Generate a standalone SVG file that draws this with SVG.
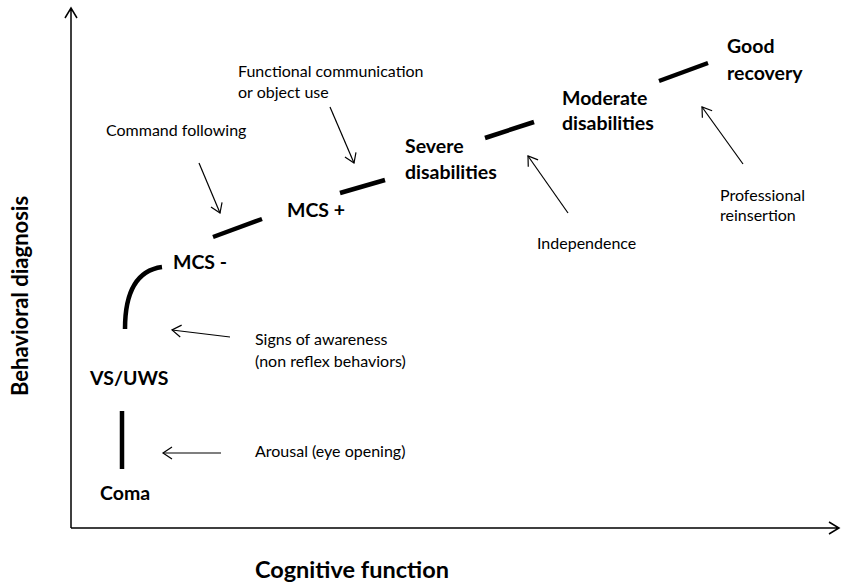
<svg xmlns="http://www.w3.org/2000/svg" width="842" height="586" viewBox="0 0 842 586">
<style>
.ax{stroke:#000;stroke-width:1.5;fill:none}
.thin{stroke:#000;stroke-width:1.2;fill:none;marker-end:url(#open)}
.seg{stroke:#000;stroke-width:4.5;fill:none}
.b{font-family:Lato,"Open Sans","Liberation Sans",sans-serif;font-weight:bold;font-size:19.5px;fill:#000}
.r{font-family:Lato,"Open Sans","Liberation Sans",sans-serif;font-size:16px;fill:#000}
.t{font-family:Lato,"Open Sans","Liberation Sans",sans-serif;font-weight:bold;font-size:23.5px;fill:#000}
</style>
<defs>
<marker id="open" markerWidth="14" markerHeight="14" refX="12" refY="7" orient="auto" markerUnits="userSpaceOnUse">
<path d="M3,1 L12,7 L3,13" fill="none" stroke="#000" stroke-width="1.2"/>
</marker>
</defs>
<rect width="842" height="586" fill="#fff"/>
<g id="axes">
<path class="ax" d="M71,528 V9 M65,18 L71,8 L77,18"/>
<path class="ax" d="M71,528 H838 M829,522 L839,528 L829,534"/>
<text class="t" transform="translate(28,396) rotate(-90)" style="font-size:22px">Behavioral diagnosis</text>
<text class="t" x="255" y="578">Cognitive function</text>
</g>
<g id="connectors">
<line class="seg" x1="122" y1="411" x2="122" y2="469"/>
<path class="seg" d="M125,329 Q125,272 162,267"/>
<line class="seg" x1="213" y1="237" x2="262" y2="219"/>
<line class="seg" x1="340" y1="193" x2="385" y2="180"/>
<line class="seg" x1="485" y1="138" x2="534" y2="122"/>
<line class="seg" x1="659" y1="81" x2="708" y2="63"/>
<line class="thin" x1="199" y1="163" x2="220" y2="213"/>
<line class="thin" x1="330" y1="107" x2="354" y2="163"/>
<line class="thin" x1="230" y1="337" x2="172" y2="330"/>
<line class="thin" x1="221" y1="453" x2="163" y2="453"/>
<line class="thin" x1="568" y1="213" x2="528" y2="156"/>
<line class="thin" x1="743" y1="164" x2="702" y2="107"/>
</g>
<g id="coma"><text class="b" x="100" y="500">Coma</text></g>
<g id="vsuws"><text class="b" x="90" y="385">VS/UWS</text></g>
<g id="mcs-minus"><text class="b" x="173" y="269">MCS -</text></g>
<g id="mcs-plus"><text class="b" x="287" y="217">MCS +</text></g>
<g id="severe"><text class="b" x="405" y="153">Severe</text><text class="b" x="405" y="179">disabilities</text></g>
<g id="moderate"><text class="b" x="562" y="105">Moderate</text><text class="b" x="562" y="130">disabilities</text></g>
<g id="good"><text class="b" x="727" y="53">Good</text><text class="b" x="727" y="80">recovery</text></g>
<g id="functional"><text class="r" x="238" y="77">Functional communication</text><text class="r" x="238" y="98">or object use</text></g>
<g id="command"><text class="r" x="106" y="136">Command following</text></g>
<g id="signs"><text class="r" x="255" y="345">Signs of awareness</text><text class="r" x="255" y="367">(non reflex behaviors)</text></g>
<g id="arousal"><text class="r" x="255" y="457">Arousal (eye opening)</text></g>
<g id="independence"><text class="r" x="537" y="249">Independence</text></g>
<g id="professional"><text class="r" x="720" y="201">Professional</text><text class="r" x="720" y="221">reinsertion</text></g>
</svg>
